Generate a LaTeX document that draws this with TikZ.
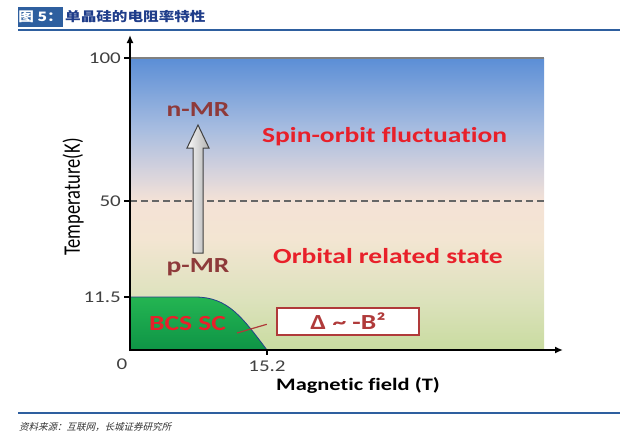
\documentclass[tikz,border=0pt]{standalone}
\usepackage{fontspec}
\usepackage{tikz}
\usetikzlibrary{arrows.meta}
\newfontfamily\plotfont[FakeStretch=1.28, Ligatures=NoCommon]{Carlito}
\newfontfamily\axisfont[Ligatures=NoCommon]{Carlito}
\newfontfamily\cjkfont[FakeStretch=1.2]{Noto Sans CJK SC}
\newfontfamily\cjkslant[FakeSlant=0.25]{Noto Sans CJK SC}
\definecolor{headblue}{HTML}{2E5F9F}
\definecolor{titleblue}{HTML}{1F3D8A}
\definecolor{phasered}{HTML}{E8202A}
\definecolor{mrred}{HTML}{8E3A3A}
\definecolor{tickgray}{HTML}{404040}
\definecolor{dashgray}{HTML}{666666}
\definecolor{scgreen}{HTML}{24B552}
\definecolor{scdark}{HTML}{0E9446}
\definecolor{scedge}{HTML}{24408A}
\definecolor{deltared}{HTML}{B03A3A}
\definecolor{arrowedge}{HTML}{404040}
\definecolor{bgbot}{HTML}{C9DBA0}
\definecolor{bglow}{HTML}{DCE2BC}
\definecolor{bgpeach}{HTML}{F3E5D2}
\definecolor{bgmid}{HTML}{F4E2D6}
\definecolor{bglav}{HTML}{D9D4DC}
\definecolor{bgsky}{HTML}{A6BCE0}
\definecolor{bgtop}{HTML}{5B8ED6}
\pgfdeclareverticalshading{phase}{100bp}{color(0bp)=(bgbot); color(25bp)=(bgbot); color(33.6bp)=(bglow); color(44bp)=(bgpeach); color(50.5bp)=(bgmid); color(55bp)=(bglav); color(63bp)=(bgsky); color(75bp)=(bgtop); color(100bp)=(bgtop)}

\begin{document}
\begin{tikzpicture}[x=1pt, y=-1pt,
    phase/.style={font=\plotfont\bfseries\fontsize{21.5}{24}\selectfont, text=phasered, inner sep=0pt},
    mrlabel/.style={font=\plotfont\bfseries\fontsize{21.5}{24}\selectfont, text=mrred, inner sep=0pt},
    ticklabel/.style={font=\plotfont\fontsize{16.4}{18}\selectfont, text=tickgray, inner sep=0pt},
    rule/.style={line width=2pt, draw=headblue}]
  \useasboundingbox (0,0) rectangle (633,442);
  \node (figtag) [fill=headblue, text=white, font=\cjkfont\bfseries\fontsize{13}{15}\selectfont, minimum width=45, minimum height=20, inner sep=0pt] at (40.5,17) {图 5：};
  \node (figtitle) [anchor=west, text=titleblue, font=\cjkfont\bfseries\fontsize{13}{15}\selectfont, inner sep=0pt] at (65,17) {单晶硅的电阻率特性};
  \draw[rule] (18,30) -- (620,30);
  \shade[shading=phase] (130,58) rectangle (544,350);
  \draw[gray, line width=1.5pt] (130,58) -- (544,58);
  \draw[dashgray, line width=1.8pt, dash pattern=on 7pt off 4pt] (130,201) -- (544,201);
  \shade[top color=scgreen, bottom color=scdark] (130,297) -- (195,297) .. controls (228,297) and (242,317) .. (267,350) -- (130,350) -- cycle;
  \draw[scedge, line width=0.8pt] (130,297) -- (195,297) .. controls (228,297) and (242,317) .. (267,350);
  \draw[line width=1.8pt, -{Latex[length=8pt,width=7pt]}] (130,351) -- (130,35);
  \draw[line width=1.8pt, -{Latex[length=8pt,width=7pt]}] (129,350) -- (563,350);
  \foreach \y/\lab [count=\i] in {58/100, 201/50, 297/11.5} {
    \draw[line width=1.5pt] (124,\y) -- (130,\y);
    \node (ytick\i) [ticklabel, anchor=east] at (121,\y) {\lab};
  }
  \draw[line width=1.5pt] (267,350) -- (267,355);
  \node (xtick0) [ticklabel] at (122,364) {0};
  \node (xtick1) [ticklabel] at (267,366) {15.2};
  \node (ylabel) [rotate=90, font=\axisfont\fontsize{18.5}{20}\selectfont] at (73,197) {\scalebox{1}[1.28]{Temperature(K)}};
  \node (xlabel) [font=\plotfont\bfseries\fontsize{17.5}{20}\selectfont] at (358,385) {Magnetic field (T)};
  \shadedraw[left color=gray!5, right color=gray!60, draw=arrowedge, line width=1pt] (193,253) -- (193,148) -- (187,148) -- (198,125) -- (209,148) -- (203,148) -- (203,253) -- cycle;
  \node (nmr) [mrlabel] at (198,110) {n-MR};
  \node (pmr) [mrlabel] at (198,267) {p-MR};
  \node (spin) [phase, anchor=base west] at (262,142) {Spin-orbit fluctuation};
  \node (orbital) [phase, anchor=base west] at (273,263) {Orbital related state};
  \node (bcs) [phase, anchor=base west] at (149,330) {BCS SC};
  \node (delta) [draw=deltared, line width=1.2pt, fill=white, minimum width=142, minimum height=27, inner sep=0pt, font=\plotfont\bfseries\fontsize{21.5}{24}\selectfont, text=deltared] at (348,321.5) {Δ \textasciitilde{} -B²};
  \coordinate (scpoint) at (237,333);
  \draw[deltared, line width=1.2pt, shorten <=10pt] (delta.west) -- (scpoint);
  \draw[rule] (18,413) -- (620,413);
  \node (source) [anchor=west, font=\cjkslant\fontsize{9.5}{11}\selectfont, text=black!80, inner sep=0pt] at (19,427) {资料来源：互联网，长城证券研究所};
\end{tikzpicture}
\end{document}
